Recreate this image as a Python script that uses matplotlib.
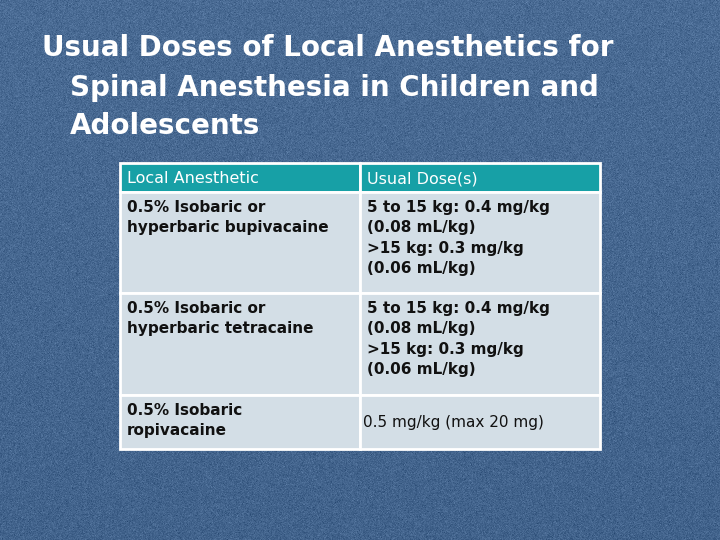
import matplotlib.pyplot as plt
from matplotlib.patches import Rectangle
import numpy as np

title_lines = ["Usual Doses of Local Anesthetics for",
               "Spinal Anesthesia in Children and",
               "Adolescents"]
headers = ["Local Anesthetic", "Usual Dose(s)"]
drugs = ["0.5% Isobaric or\nhyperbaric bupivacaine",
         "0.5% Isobaric or\nhyperbaric tetracaine",
         "0.5% Isobaric\nropivacaine"]
doses = ["5 to 15 kg: 0.4 mg/kg\n(0.08 mL/kg)\n>15 kg: 0.3 mg/kg\n(0.06 mL/kg)",
         "5 to 15 kg: 0.4 mg/kg\n(0.08 mL/kg)\n>15 kg: 0.3 mg/kg\n(0.06 mL/kg)",
         "0.5 mg/kg (max 20 mg)"]

fig = plt.figure(figsize=(7.2, 5.4), dpi=100)
ax = fig.add_axes([0, 0, 1, 1])
ax.set_xlim(0, 720)
ax.set_ylim(540, 0)
ax.axis("off")

# textured blue background
yy, xx = np.mgrid[0:540, 0:720]
rng = np.random.default_rng(3)
noise = rng.normal(0, 1, (540, 720))
base = np.zeros((540, 720, 3))
shade = 0.03 * noise - 0.00006 * yy
base[..., 0] = 0.29 + shade
base[..., 1] = 0.42 + shade
base[..., 2] = 0.58 + shade
ax.imshow(np.clip(base, 0, 1), extent=[0, 720, 540, 0], zorder=0)

title_x = [42, 70, 70]
title_y = [48, 88, 126]
for s, x, y in zip(title_lines, title_x, title_y):
    ax.text(x, y, s, color="white", fontsize=20, fontweight="bold",
            va="center", ha="left", family="DejaVu Sans")

col_x = [120, 360, 600]
row_y = [163, 192, 293, 395, 449]
for i in range(len(row_y) - 1):
    for j in range(2):
        fc = "#17a0a6" if i == 0 else "#d3dee6"
        ax.add_patch(Rectangle((col_x[j], row_y[i]), col_x[j + 1] - col_x[j],
                               row_y[i + 1] - row_y[i], facecolor=fc,
                               edgecolor="white", lw=2, zorder=2))

for j, h in enumerate(headers):
    ax.text(col_x[j] + 7, (row_y[0] + row_y[1]) / 2 + 1, h, color="white",
            fontsize=11.5, va="center", ha="left", zorder=3)

for i, (d, u) in enumerate(zip(drugs, doses)):
    y = row_y[i + 1] + 8
    ax.text(col_x[0] + 7, y, d, color="#111111", fontsize=11, fontweight="semibold",
            va="top", ha="left", linespacing=1.45, zorder=3)
    last = i == len(drugs) - 1
    ax.text(col_x[1] + (3 if last else 7), y + (12 if last else 0), u,
            color="#111111", fontsize=11,
            fontweight="normal" if last else "semibold",
            va="top", ha="left", linespacing=1.45, zorder=3)

fig.savefig("out.png", dpi=100)
